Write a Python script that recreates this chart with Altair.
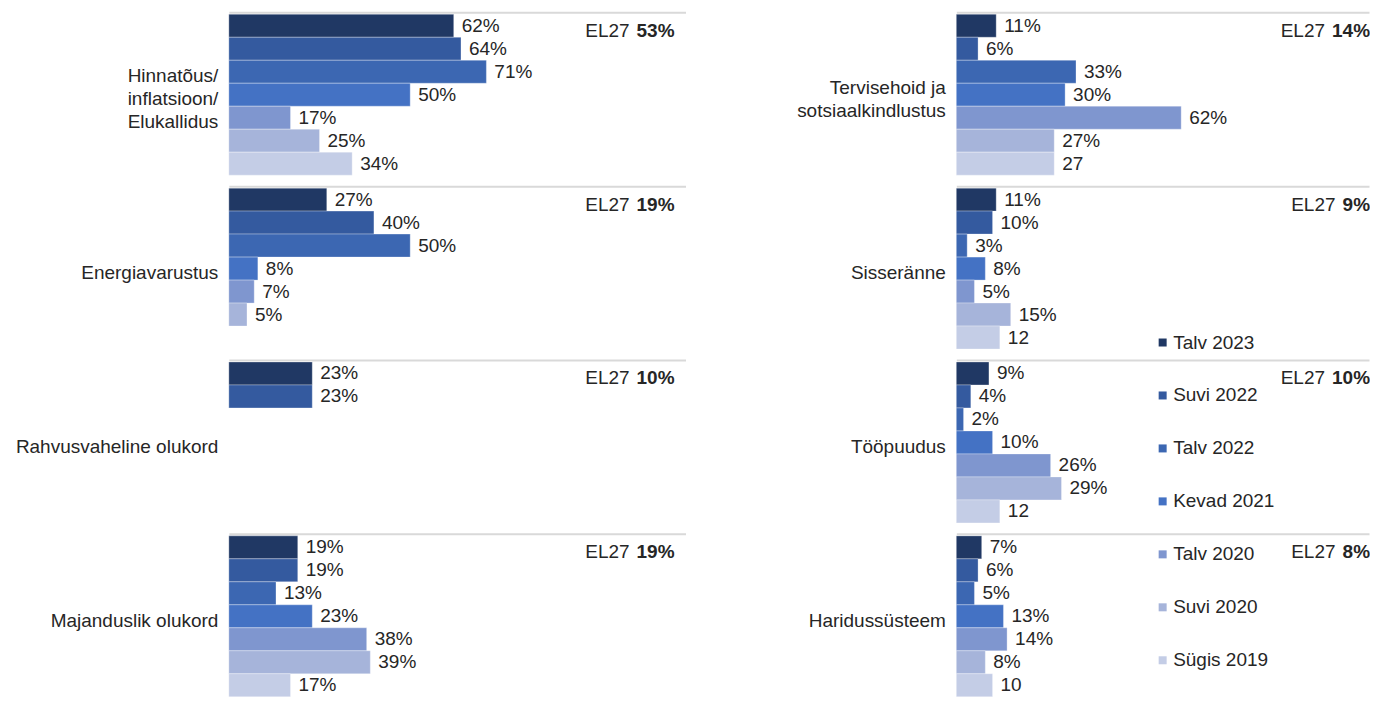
import altair as alt
import pandas as pd

series = ["Talv 2023", "Suvi 2022", "Talv 2022", "Kevad 2021", "Talv 2020", "Suvi 2020", "Sügis 2019"]
colors = ["#203864", "#345A9F", "#3C67B2", "#4472C4", "#7F96CF", "#A6B4DA", "#C4CDE6"]

left_categories = ["Hinnatõus/|inflatsioon/|Elukallidus", "Energiavarustus",
                   "Rahvusvaheline olukord", "Majanduslik olukord"]
right_categories = ["Tervisehoid ja|sotsiaalkindlustus", "Sisseränne", "Tööpuudus", "Haridussüsteem"]

hinnatous = [62, 64, 71, 50, 17, 25, 34]
energia = [27, 40, 50, 8, 7, 5, None]
rahvusvaheline = [23, 23, None, None, None, None, None]
majandus = [19, 19, 13, 23, 38, 39, 17]
tervis = [11, 6, 33, 30, 62, 27, 27]
sisseranne = [11, 10, 3, 8, 5, 15, 12]
toopuudus = [9, 4, 2, 10, 26, 29, 12]
haridus = [7, 6, 5, 13, 14, 8, 10]

left_eu = ["53%", "19%", "10%", "19%"]
right_eu = ["14%", "9%", "10%", "8%"]

FONT = "Liberation Sans, Arial, sans-serif"
TXT = "#262626"
STEP = 174
PX_PER_PCT = 3.63


def column(cats, vals, eu, width, last_pct, eu_x, multi_offset):
    rows = []
    for c, vs in zip(cats, vals):
        for i, (s, v) in enumerate(zip(series, vs)):
            if v is None:
                continue
            suffix = "%" if (i < 6 or last_pct) else ""
            rows.append({"cat": c, "series": s, "value": v, "label": f"{v}{suffix}"})
    df = pd.DataFrame(rows)
    eu_df = pd.DataFrame({"cat": cats, "series": [series[0]] * len(cats), "eu": eu})

    y = alt.Y("cat:N", sort=cats,
              scale=alt.Scale(domain=cats, range=[0, 4 * STEP], paddingInner=0, paddingOuter=0),
              axis=alt.Axis(title=None, ticks=False, domain=False, grid=True,
                            gridColor="#d9d9d9", gridWidth=2, bandPosition=0,
                            labelOffset={"condition": {"test": "indexof(datum.value, '|') >= 0",
                                                       "value": multi_offset}, "value": 0},
                            labelPadding=11, labelFontSize=19,
                            labelFont=FONT, labelColor=TXT, labelLimit=400,
                            labelLineHeight=23, labelExpr="split(datum.label, '|')",
                            minExtent=216, maxExtent=216))
    yoff = alt.YOffset("series:N", sort=series,
                       scale=alt.Scale(domain=series, paddingInner=0, paddingOuter=0.2826, align=0.154))
    x = alt.X("value:Q", scale=alt.Scale(domain=[0, width / PX_PER_PCT], nice=False, zero=True), axis=None)
    color = alt.Color("series:N", sort=series,
                      scale=alt.Scale(domain=series, range=colors),
                      legend=alt.Legend(title=None, orient="none", legendX=925, legendY=321,
                                        symbolType="square", symbolSize=64, symbolStrokeWidth=0,
                                        labelFontSize=19, labelFont=FONT, labelColor=TXT,
                                        rowPadding=33, labelOffset=1, padding=0))

    bars = alt.Chart(df).mark_bar(stroke="white", strokeWidth=0.6, strokeOpacity=0.5).encode(
        x=x, y=y, yOffset=yoff, color=color)
    text = alt.Chart(df).mark_text(align="left", baseline="middle", dx=8, fontSize=19,
                                   font=FONT, color=TXT).encode(
        x=x, y=y, yOffset=yoff, text="label:N")
    eu_num = alt.Chart(eu_df).mark_text(align="right", baseline="middle", dy=5, fontSize=19,
                                        fontWeight="bold", font=FONT, color=TXT).encode(
        x=alt.value(eu_x), y=y, yOffset=yoff, text="eu:N")
    eu_lab3 = alt.Chart(eu_df).transform_filter("length(datum.eu) == 3").mark_text(
        align="right", baseline="middle", dy=5, dx=-45, fontSize=19, font=FONT, color=TXT).encode(
        x=alt.value(eu_x), y=y, yOffset=yoff, text=alt.value("EL27"))
    eu_lab2 = alt.Chart(eu_df).transform_filter("length(datum.eu) == 2").mark_text(
        align="right", baseline="middle", dy=5, dx=-34.5, fontSize=19, font=FONT, color=TXT).encode(
        x=alt.value(eu_x), y=y, yOffset=yoff, text=alt.value("EL27"))
    return alt.layer(bars, text, eu_num, eu_lab3, eu_lab2).properties(width=width, height=685)


left = column(left_categories, [hinnatous, energia, rahvusvaheline, majandus], left_eu, 457, True, 446, -23)
right = column(right_categories, [tervis, sisseranne, toopuudus, haridus], right_eu, 413, False, 414, -11.5)

chart = alt.hconcat(left, right, spacing=55).properties(
    padding={"left": 5, "top": 4, "right": 0, "bottom": 0}
).configure(background="white").configure_view(stroke=None)

chart.save("out.html", embed_options={"renderer": "svg", "actions": False})
